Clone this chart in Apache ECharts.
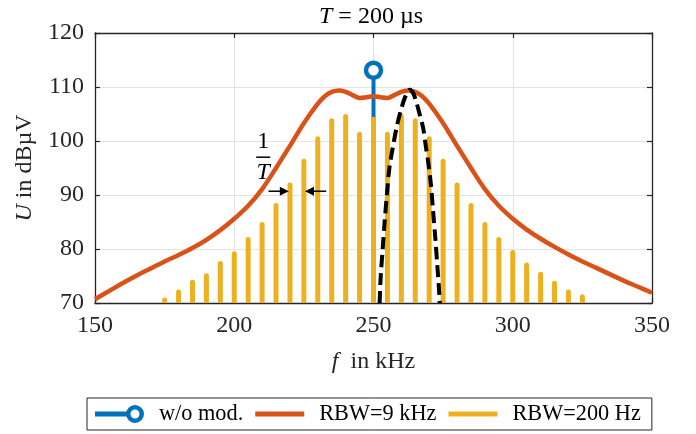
<!DOCTYPE html>
<html>
<head>
<meta charset="utf-8">
<script src="https://cdn.jsdelivr.net/npm/echarts@6/dist/echarts.min.js"></script>
<style>
  html, body { margin: 0; background: #fff; }
  #chart { width: 696px; height: 434px; }
</style>
</head>
<body>
<div id="chart"></div>
<script>
// RBW=200 Hz spectral lines (kHz, dBµV)
const barFreq = [175, 180, 185, 190, 195, 200, 205, 210, 215, 220, 225, 230, 235, 240, 245, 250,
  255, 260, 265, 270, 275, 280, 285, 290, 295, 300, 305, 310, 315, 320, 325];
const barLevel = [71.0, 72.5, 74.3, 75.5, 77.8, 79.6, 82.2, 85.0, 88.5, 92.3, 96.7, 100.9, 104.2, 105.0, 101.7, 104.5,
  101.7, 105.0, 104.2, 100.9, 96.7, 92.3, 88.5, 85.0, 82.2, 79.8, 77.5, 75.8, 74.1, 72.5, 71.6];

// RBW=9 kHz envelope
const envFreq = [150, 155, 160, 165, 170, 175, 180, 185, 190, 195, 200, 205, 210, 215, 220, 225, 230, 232.5, 235, 237.5,
  240, 242.5, 245, 247.5, 250, 252.5, 255, 257.5, 260, 262.5, 265, 267.5, 270, 275, 280, 285, 290, 295, 300,
  305, 310, 315, 320, 325, 330, 335, 340, 345, 350];
const envLevel = [70.7, 72.2, 73.7, 75.1, 76.4, 77.7, 78.9, 80.2, 81.7, 83.5, 85.6, 88.0, 91.1, 95.0, 99.1, 103.3, 106.9, 108.3, 109.1, 109.35,
  109.1, 108.5, 107.95, 108.1, 108.3, 108.1, 107.95, 108.5, 109.1, 109.35, 109.1, 108.3, 106.9, 103.3, 99.1, 95.0, 91.1, 88.0, 85.6,
  83.6, 81.9, 80.4, 79.0, 77.7, 76.5, 75.3, 74.1, 73.0, 71.9];

// black dashed curve
const dashFreq = [252.2, 252.6, 253.3, 254.0, 254.8, 255.7, 257.0, 258.5, 260.0, 261.5, 263.0, 264.3, 265.5,
  266.8, 267.8, 268.8, 269.8, 270.6, 271.4, 272.2, 272.9, 273.4, 273.8];
const dashLevel = [70, 75, 80, 85, 90, 95, 99, 103, 106, 108.3, 109.5, 108.8, 107,
  104.5, 102.5, 99, 95.5, 92, 87, 82, 77, 73.5, 70];

// w/o modulation
const carrierFreq = 250;
const carrierLevel = 113.1;

const xTicks = [150, 200, 250, 300, 350];
const yTicks = [70, 80, 90, 100, 110, 120];

const zip = (a, b) => a.map((v, i) => [v, b[i]]);
const font = 'Liberation Serif';
const ink = '#262626';
const fs = 24;

const chart = echarts.init(document.getElementById('chart'));

const baseX = {
  type: 'value', min: xTicks[0], max: xTicks[xTicks.length - 1], interval: 50,
  axisLine: { show: true, onZero: false, lineStyle: { color: ink, width: 1.3 } },
  axisTick: { show: true, inside: true, length: 5, lineStyle: { color: ink, width: 1.2 } },
};
const baseY = {
  type: 'value', min: yTicks[0], max: yTicks[yTicks.length - 1], interval: 10,
  axisLine: { show: true, onZero: false, lineStyle: { color: ink, width: 1.3 } },
  axisTick: { show: true, inside: true, length: 5, lineStyle: { color: ink, width: 1.2 } },
};
const italicRich = { i: { fontFamily: font, fontSize: fs, fontStyle: 'italic', color: ink } };

const ringIcon = 'path://M0,7.5H34V12.5H0Z M40,1A9,9 0 1,1 39.99,1Z M40,5.5A4.5,4.5 0 1,0 40.01,5.5Z';
const barIcon = 'path://M0,0H49V5H0Z';

const option = {
  animation: false,
  backgroundColor: '#fff',
  title: {
    text: '{i|T} = 200 µs',
    left: 314, top: 0,
    textStyle: {
      fontFamily: font, fontSize: fs, fontWeight: 'normal', color: '#000',
      rich: { i: { fontFamily: font, fontSize: fs, fontStyle: 'italic', color: '#000' } }
    }
  },
  grid: { left: 95, right: 44, top: 33, bottom: 131 },
  legend: {
    left: 87, top: 398,
    orient: 'horizontal',
    padding: [5, 11, 5, 8],
    itemGap: 12,
    itemWidth: 49, itemHeight: 18,
    borderColor: ink, borderWidth: 1,
    selectedMode: false,
    textStyle: { fontFamily: font, fontSize: 22.3, color: '#000', padding: [0, 0, 0, 10] },
    data: [
      { name: 'w/o mod.', icon: ringIcon, itemStyle: { color: '#0072BD', borderWidth: 0 } },
      { name: 'RBW=9 kHz', icon: barIcon, itemStyle: { color: '#D95319', borderWidth: 0 } },
      { name: 'RBW=200 Hz', icon: barIcon, itemStyle: { color: '#EDB120', borderWidth: 0 } }
    ]
  },
  xAxis: [
    Object.assign({}, baseX, {
      position: 'bottom',
      name: '{i|f}  in kHz', nameLocation: 'middle', nameGap: 47,
      nameTextStyle: { fontFamily: font, fontSize: fs, color: ink, rich: italicRich },
      axisLabel: { fontFamily: font, fontSize: fs, color: ink, margin: 11, showMinLabel: true, showMaxLabel: true },
      splitLine: { show: true, lineStyle: { color: '#e3e3e3', width: 1 } }
    }),
    Object.assign({}, baseX, { position: 'top', axisLabel: { show: false }, splitLine: { show: false } })
  ],
  yAxis: [
    Object.assign({}, baseY, {
      position: 'left',
      name: '{i|U} in dBµV', nameLocation: 'middle', nameGap: 56, nameRotate: 90,
      nameTextStyle: { fontFamily: font, fontSize: fs, color: ink, rich: italicRich },
      axisLabel: { fontFamily: font, fontSize: fs, color: ink, margin: 11, showMinLabel: true, showMaxLabel: true },
      splitLine: { show: true, lineStyle: { color: '#e3e3e3', width: 1 } }
    }),
    Object.assign({}, baseY, { position: 'right', axisLabel: { show: false }, splitLine: { show: false } })
  ],
  series: [
    {
      name: 'w/o mod.',
      type: 'line',
      z: 2,
      data: [
        { value: [carrierFreq, yTicks[0]], symbol: 'none' },
        { value: [carrierFreq, carrierLevel] }
      ],
      symbol: 'circle', symbolSize: 15,
      lineStyle: { color: '#0072BD', width: 4 },
      itemStyle: { color: '#fff', borderColor: '#0072BD', borderWidth: 4.5 }
    },
    {
      name: 'RBW=200 Hz',
      type: 'bar',
      z: 3,
      barWidth: 5,
      data: zip(barFreq, barLevel),
      itemStyle: { color: '#EDB120', borderRadius: [2.5, 2.5, 0, 0] }
    },
    {
      name: 'RBW=9 kHz',
      type: 'line',
      z: 4,
      smooth: 0.35,
      symbol: 'none',
      data: zip(envFreq, envLevel),
      lineStyle: { color: '#D95319', width: 4.5 },
      itemStyle: { color: '#D95319' }
    },
    {
      name: 'dash',
      type: 'line',
      z: 5,
      smooth: 0.3,
      symbol: 'none',
      data: zip(dashFreq, dashLevel),
      lineStyle: { color: '#000', width: 4, type: [12, 6] }
    }
  ]
};

chart.setOption(option);

// 1/T annotation placed in data coordinates
const px = (x, y) => chart.convertToPixel({ xAxisIndex: 0, yAxisIndex: 0 }, [x, y]);
const fracTop = px(210.4, 99.9);
const fracBar = px(210.4, 97.0);
const fracBot = px(210.4, 94.1);
const a1s = px(212.3, 90.7), a1e = px(219.6, 90.7);
const a2s = px(233.0, 90.7), a2e = px(225.4, 90.7);
const head = (tip, dir) => ({
  type: 'polygon', z: 100,
  shape: { points: [tip, [tip[0] - dir * 9, tip[1] - 4.5], [tip[0] - dir * 9, tip[1] + 4.5]] },
  style: { fill: '#000' }
});

chart.setOption({
  graphic: [
    { type: 'text', z: 100, x: fracTop[0], y: fracTop[1],
      style: { text: '1', font: '24px "Liberation Serif"', fill: '#000', align: 'center', verticalAlign: 'middle' } },
    { type: 'line', z: 100, shape: { x1: fracBar[0] - 7, y1: fracBar[1], x2: fracBar[0] + 7, y2: fracBar[1] },
      style: { stroke: '#000', lineWidth: 1.5 } },
    { type: 'text', z: 100, x: fracBot[0], y: fracBot[1],
      style: { text: 'T', font: 'italic 24px "Liberation Serif"', fill: '#000', align: 'center', verticalAlign: 'middle' } },
    { type: 'line', z: 100, shape: { x1: a1s[0], y1: a1s[1], x2: a1e[0] - 6, y2: a1e[1] },
      style: { stroke: '#000', lineWidth: 1.5 } },
    head(a1e, 1),
    { type: 'line', z: 100, shape: { x1: a2s[0], y1: a2s[1], x2: a2e[0] + 6, y2: a2e[1] },
      style: { stroke: '#000', lineWidth: 1.5 } },
    head(a2e, -1)
  ]
});
</script>
</body>
</html>
